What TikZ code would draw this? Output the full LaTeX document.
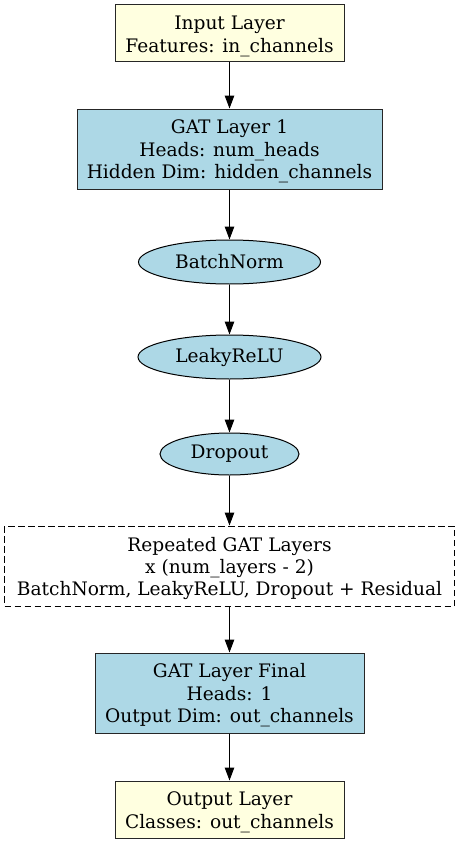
\documentclass[tikz,border=0pt]{standalone}
\usepackage{fontspec}
\setmainfont{DejaVu Serif}
\usetikzlibrary{shapes.geometric,arrows.meta}
\definecolor{lyellow}{HTML}{FFFFE0}
\definecolor{lblue}{HTML}{ADD8E6}
\newcommand{\tstrut}{\rule{0pt}{19pt}}
\begin{document}
\begin{tikzpicture}[x=1pt,y=-1pt,
  every node/.style={font=\fontsize{18.6}{22.4}\selectfont, align=center, inner sep=0pt, line width=1pt},
  rbox/.style={draw=black!85, rectangle},
  ebox/.style={draw=black, ellipse, fill=lblue},
  conn/.style={line width=1pt, -{Triangle[length=13pt,width=9.5pt]}}]
\useasboundingbox (0,0) rectangle (459,843);
\node[rbox, fill=lyellow, minimum width=229pt, minimum height=57pt] (in) at (229.5,33.5) {\tstrut Input Layer\\Features: in\_channels};
\node[rbox, fill=lblue, minimum width=305pt, minimum height=80pt] (g1) at (229.5,149) {\tstrut GAT Layer 1\\Heads: num\_heads\\Hidden Dim: hidden\_channels};
\node[ebox, minimum width=182pt, minimum height=44pt] (bn) at (229.5,262) {BatchNorm};
\node[ebox, minimum width=183pt, minimum height=44pt] (lr) at (229.5,357) {LeakyReLU};
\node[ebox, minimum width=139pt, minimum height=42pt] (dp) at (229.5,454) {Dropout};
\node[draw=black, dash pattern=on 6.5pt off 3.5pt, rectangle, minimum width=450pt, minimum height=80pt] (rep) at (229.5,566) {\tstrut Repeated GAT Layers\\x (num\_layers - 2)\\BatchNorm, LeakyReLU, Dropout + Residual};
\node[rbox, fill=lblue, minimum width=269pt, minimum height=80pt] (gf) at (229.5,693) {\tstrut GAT Layer Final\\Heads: 1\\Output Dim: out\_channels};
\node[rbox, fill=lyellow, minimum width=229pt, minimum height=57pt] (out) at (229.5,809.5) {\tstrut Output Layer\\Classes: out\_channels};
\draw[conn] (in) -- (g1);
\draw[conn] (g1) -- (bn);
\draw[conn] (bn) -- (lr);
\draw[conn] (lr) -- (dp);
\draw[conn] (dp) -- (rep);
\draw[conn] (rep) -- (gf);
\draw[conn] (gf) -- (out);
\end{tikzpicture}
\end{document}
